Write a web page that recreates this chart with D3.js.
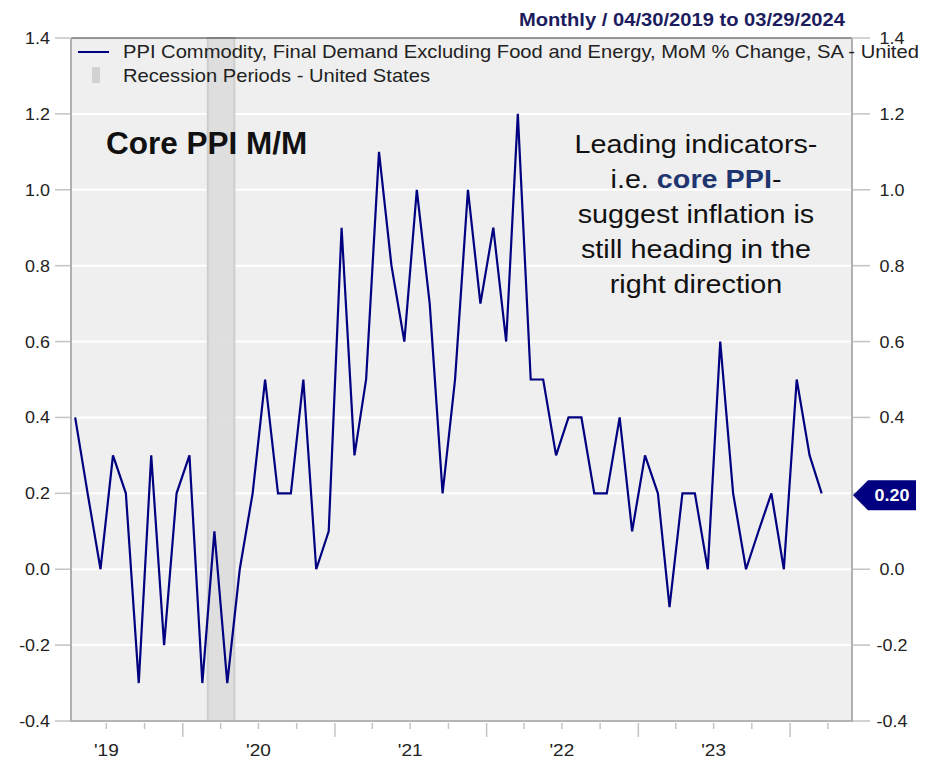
<!DOCTYPE html>
<html>
<head>
<meta charset="utf-8">
<script src="https://cdn.jsdelivr.net/npm/d3@7"></script>
<style>
  body { margin: 0; background: #fff; }
  svg { display: block; font-family: "Liberation Sans", Arial, sans-serif; }
</style>
</head>
<body>
<svg id="chart" width="925" height="760"></svg>
<script>
// monthly core PPI, MoM % change, Apr 2019 .. Mar 2024
var firstMonth = "2019-04";
var ppiValues = [0.4, 0.2, 0.0, 0.3, 0.2, -0.3, 0.3, -0.2, 0.2,
    0.3, -0.3, 0.1, -0.3, 0.0, 0.2, 0.5, 0.2, 0.2, 0.5, 0.0, 0.1,
    0.9, 0.3, 0.5, 1.1, 0.8, 0.6, 1.0, 0.7, 0.2, 0.5, 1.0, 0.7,
    0.9, 0.6, 1.2, 0.5, 0.5, 0.3, 0.4, 0.4, 0.2, 0.2, 0.4, 0.1,
    0.3, 0.2, -0.1, 0.2, 0.2, 0.0, 0.6, 0.2, 0.0, 0.1, 0.2, 0.0,
    0.5, 0.3, 0.2];
var recession = ["2020-03-01", "2020-05-04"];
var yTicks = [-0.4, -0.2, 0.0, 0.2, 0.4, 0.6, 0.8, 1.0, 1.2, 1.4];
var yearLabels = ["'19", "'20", "'21", "'22", "'23"];
var xDomain = ["2019-04-07", "2024-05-29"];

var seriesName = "PPI Commodity, Final Demand Excluding Food and Energy, MoM % Change, SA - United States";
var recessionName = "Recession Periods - United States";
var headerText = "Monthly / 04/30/2019 to 03/29/2024";

var parseDay = d3.timeParse("%Y-%m-%d");
var parseMonth = d3.timeParse("%Y-%m");

var svg = d3.select("#chart");
var plot = { left: 71, right: 852, top: 38, bottom: 721 };
var SX = 1.12; // text in the original is a bit wide

var start = parseMonth(firstMonth);
var data = ppiValues.map(function (v, i) {
    // points sit around mid-month
    return { date: d3.timeDay.offset(d3.timeMonth.offset(start, i), 16), value: v };
});
var last = data[data.length - 1];

var x = d3.scaleTime().domain(xDomain.map(parseDay)).range([plot.left, plot.right]);
var y = d3.scaleLinear().domain([-0.4, 1.4]).range([plot.bottom, plot.top]);

function txt(parent, px, py, s, o) {
    o = o || {};
    var g = parent.append("g").attr("transform", "translate(" + px + "," + py + ") scale(" + (o.sx || SX) + ",1)");
    return g.append("text")
        .attr("text-anchor", o.anchor || "start")
        .attr("font-size", o.size || 16)
        .attr("font-weight", o.weight || "normal")
        .attr("fill", o.fill || "#222")
        .text(s);
}

// background
svg.append("rect").attr("x", plot.left).attr("y", plot.top)
    .attr("width", plot.right - plot.left).attr("height", plot.bottom - plot.top)
    .attr("fill", "#efefef");

// grid
svg.append("g").selectAll("line").data(yTicks.slice(1, -1)).enter().append("line")
    .attr("x1", plot.left).attr("x2", plot.right)
    .attr("y1", function (d) { return y(d); }).attr("y2", function (d) { return y(d); })
    .attr("stroke", "#fff").attr("stroke-width", 2);

// recession band
svg.append("rect")
    .attr("x", x(parseDay(recession[0]))).attr("y", plot.top)
    .attr("width", x(parseDay(recession[1])) - x(parseDay(recession[0])))
    .attr("height", plot.bottom - plot.top)
    .attr("fill", "#dcdcdc").attr("fill-opacity", 0.92)
    .attr("stroke", "#cdcdcd").attr("stroke-width", 2);

// frame
svg.append("line").attr("x1", plot.left).attr("x2", plot.right).attr("y1", plot.top).attr("y2", plot.top)
    .attr("stroke", "#333").attr("stroke-width", 1);
svg.append("line").attr("x1", plot.left).attr("x2", plot.right).attr("y1", plot.bottom).attr("y2", plot.bottom)
    .attr("stroke", "#b4b4b4").attr("stroke-width", 2);
[plot.left, plot.right].forEach(function (xx) {
    svg.append("line").attr("x1", xx).attr("x2", xx).attr("y1", plot.top).attr("y2", plot.bottom + 1)
        .attr("stroke", "#b0b0b0").attr("stroke-width", 2);
});

// y ticks both sides
var yt = svg.append("g");
yTicks.forEach(function (d) {
    yt.append("line").attr("x1", 55).attr("x2", plot.left - 1).attr("y1", y(d)).attr("y2", y(d))
        .attr("stroke", "#c4c4c4").attr("stroke-width", 1.5);
    yt.append("line").attr("x1", plot.right + 1).attr("x2", 870).attr("y1", y(d)).attr("y2", y(d))
        .attr("stroke", "#c4c4c4").attr("stroke-width", 1.5);
    txt(yt, 50, y(d) + 6, d.toFixed(1), { anchor: "end", size: 16 });
    // the last-value badge covers the right label at its level
    if (Math.abs(d - last.value) > 1e-9) {
        txt(yt, 892, y(d) + 6, d.toFixed(1), { anchor: "middle", size: 16 });
    }
});

// x ticks: quarters short, years long
var xt = svg.append("g");
x.ticks(d3.timeMonth.every(3)).forEach(function (d) {
    var isYear = d.getMonth() === 0;
    xt.append("line").attr("x1", x(d)).attr("x2", x(d))
        .attr("y1", plot.bottom + 2).attr("y2", plot.bottom + (isYear ? 16 : 8))
        .attr("stroke", "#c4c4c4").attr("stroke-width", 1.5);
});
yearLabels.forEach(function (s, i) {
    var mid = new Date(2019 + i, 6, 1);
    txt(xt, x(mid), 756, s, { anchor: "middle", size: 17 });
});

// series line
var line = d3.line().x(function (d) { return x(d.date); }).y(function (d) { return y(d.value); });
svg.append("path").datum(data).attr("d", line)
    .attr("fill", "none").attr("stroke", "#000080").attr("stroke-width", 2.2)
    .attr("stroke-linejoin", "miter");

// legend
var lg = svg.append("g");
lg.append("line").attr("x1", 78).attr("x2", 109).attr("y1", 52).attr("y2", 52)
    .attr("stroke", "#000080").attr("stroke-width", 2);
txt(lg, 123, 58, seriesName, { size: 18 });
lg.append("rect").attr("x", 92).attr("y", 67).attr("width", 8).attr("height", 16).attr("fill", "#d2d2d2");
txt(lg, 123, 82, recessionName, { size: 18 });

// header
txt(svg, 845, 26, headerText, { anchor: "end", size: 18, weight: "bold", fill: "#1c1c5e" });

// title
txt(svg, 106, 154, "Core PPI M/M", { size: 31.5, weight: "bold", fill: "#111", sx: 1 });

// annotation
var note = svg.append("g");
var noteLines = ["Leading indicators-", null, "suggest inflation is", "still heading in the", "right direction"];
noteLines.forEach(function (s, i) {
    var by = 153 + i * 35;
    if (s) {
        txt(note, 696, by, s, { anchor: "middle", size: 25, fill: "#111", sx: 1.15 });
    } else {
        var t = txt(note, 696, by, "", { anchor: "middle", size: 25, fill: "#111", sx: 1.15 });
        t.append("tspan").text("i.e. ");
        t.append("tspan").attr("font-weight", "bold").attr("fill", "#1f3570").text("core PPI");
        t.append("tspan").text("-");
    }
});

// last value badge
var yc = y(last.value) + 2;
svg.append("path")
    .attr("d", "M" + (plot.right + 1) + "," + yc + "L868," + (yc - 15) + "L916," + (yc - 15) +
        "L916," + (yc + 15) + "L868," + (yc + 15) + "Z")
    .attr("fill", "#000080");
txt(svg, 892, yc + 6, last.value.toFixed(2), { anchor: "middle", size: 16, weight: "bold", fill: "#fff" });
</script>
</body>
</html>
